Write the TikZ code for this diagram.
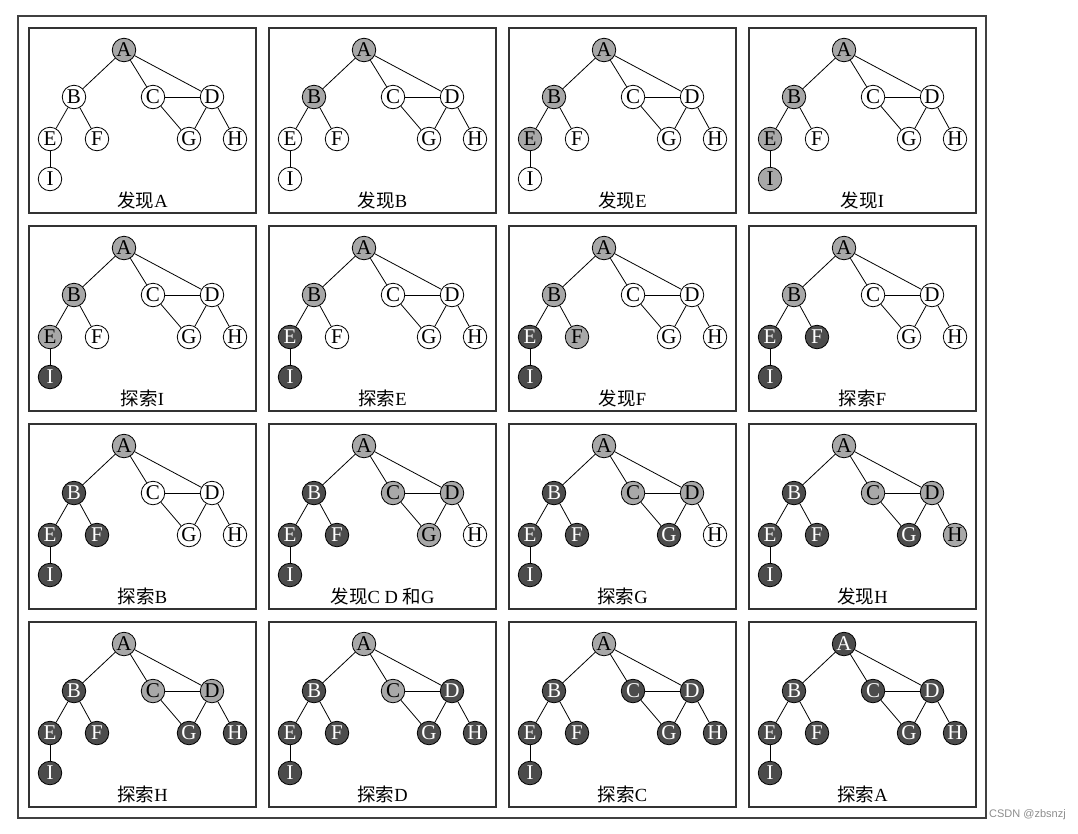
\documentclass[tikz,border=0pt]{standalone}
\usepackage{fontspec}
\setmainfont{Liberation Serif}
\newfontfamily\cjk{Noto Sans CJK SC}
\newfontfamily\wmfont{Liberation Sans}
\tikzset{
  vbase/.style={circle, draw=black, line width=0.8pt, minimum size=23.5pt, inner sep=0pt,
    font=\fontsize{21}{21}\selectfont},
  vw/.style={vbase, fill=white, text=black},
  vg/.style={vbase, fill=black!34, text=black},
  vd/.style={vbase, fill=black!70, text=white},
  sA/.style=vw, sB/.style=vw, sC/.style=vw, sD/.style=vw, sE/.style=vw,
  sF/.style=vw, sG/.style=vw, sH/.style=vw, sI/.style=vw,
  edge/.style={line width=0.8pt, black},
  panel/.style={line width=1.2pt, draw=black!80},
  lab/.style={font=\fontsize{18.5}{18.5}\selectfont, inner sep=0pt}
}
\newcommand\gpanel[4]{%
  \begin{scope}[shift={#2}, #4]
    \draw[panel] (0,0) rectangle (227,185);
    \node[sA] (#1A) at (95,22) {A};
    \node[sB] (#1B) at (45,69) {B};
    \node[sC] (#1C) at (124,69) {C};
    \node[sD] (#1D) at (183,69) {D};
    \node[sE] (#1E) at (21,111) {E};
    \node[sF] (#1F) at (68,111) {F};
    \node[sG] (#1G) at (160,111) {G};
    \node[sH] (#1H) at (206,111) {H};
    \node[sI] (#1I) at (21,151) {I};
    \draw[edge] (#1A) -- (#1B);
    \draw[edge] (#1A) -- (#1C);
    \draw[edge] (#1A) -- (#1D);
    \draw[edge] (#1B) -- (#1E);
    \draw[edge] (#1B) -- (#1F);
    \draw[edge] (#1C) -- (#1D);
    \draw[edge] (#1C) -- (#1G);
    \draw[edge] (#1D) -- (#1G);
    \draw[edge] (#1D) -- (#1H);
    \draw[edge] (#1E) -- (#1I);
    \node[lab] (#1L) at (113.5,172) {#3};
  \end{scope}}
\begin{document}
\begin{tikzpicture}[x=1pt, y=-1pt]
\useasboundingbox (0,0) rectangle (1078,833);
\draw[line width=1.3pt, black!75] (18,16) rectangle (986,818);
% row 1
\gpanel{pa}{(29,28)}{{\cjk 发现}A}{sA/.style=vg}
\gpanel{pb}{(269,28)}{{\cjk 发现}B}{sA/.style=vg, sB/.style=vg}
\gpanel{pc}{(509,28)}{{\cjk 发现}E}{sA/.style=vg, sB/.style=vg, sE/.style=vg}
\gpanel{pd}{(749,28)}{{\cjk 发现}I}{sA/.style=vg, sB/.style=vg, sE/.style=vg, sI/.style=vg}
% row 2
\gpanel{pe}{(29,226)}{{\cjk 探索}I}{sA/.style=vg, sB/.style=vg, sE/.style=vg, sI/.style=vd}
\gpanel{pf}{(269,226)}{{\cjk 探索}E}{sA/.style=vg, sB/.style=vg, sE/.style=vd, sI/.style=vd}
\gpanel{pg}{(509,226)}{{\cjk 发现}F}{sA/.style=vg, sB/.style=vg, sE/.style=vd, sI/.style=vd, sF/.style=vg}
\gpanel{ph}{(749,226)}{{\cjk 探索}F}{sA/.style=vg, sB/.style=vg, sE/.style=vd, sI/.style=vd, sF/.style=vd}
% row 3
\gpanel{pi}{(29,424)}{{\cjk 探索}B}{sA/.style=vg, sB/.style=vd, sE/.style=vd, sI/.style=vd, sF/.style=vd}
\gpanel{pj}{(269,424)}{{\cjk 发现}C D {\cjk 和}G}{sA/.style=vg, sB/.style=vd, sE/.style=vd, sI/.style=vd, sF/.style=vd, sC/.style=vg, sD/.style=vg, sG/.style=vg}
\gpanel{pk}{(509,424)}{{\cjk 探索}G}{sA/.style=vg, sB/.style=vd, sE/.style=vd, sI/.style=vd, sF/.style=vd, sC/.style=vg, sD/.style=vg, sG/.style=vd}
\gpanel{pl}{(749,424)}{{\cjk 发现}H}{sA/.style=vg, sB/.style=vd, sE/.style=vd, sI/.style=vd, sF/.style=vd, sC/.style=vg, sD/.style=vg, sG/.style=vd, sH/.style=vg}
% row 4
\gpanel{pm}{(29,622)}{{\cjk 探索}H}{sA/.style=vg, sB/.style=vd, sE/.style=vd, sI/.style=vd, sF/.style=vd, sC/.style=vg, sD/.style=vg, sG/.style=vd, sH/.style=vd}
\gpanel{pn}{(269,622)}{{\cjk 探索}D}{sA/.style=vg, sB/.style=vd, sE/.style=vd, sI/.style=vd, sF/.style=vd, sC/.style=vg, sD/.style=vd, sG/.style=vd, sH/.style=vd}
\gpanel{po}{(509,622)}{{\cjk 探索}C}{sA/.style=vg, sB/.style=vd, sE/.style=vd, sI/.style=vd, sF/.style=vd, sC/.style=vd, sD/.style=vd, sG/.style=vd, sH/.style=vd}
\gpanel{pp}{(749,622)}{{\cjk 探索}A}{sA/.style=vd, sB/.style=vd, sE/.style=vd, sI/.style=vd, sF/.style=vd, sC/.style=vd, sD/.style=vd, sG/.style=vd, sH/.style=vd}
\node[font=\wmfont\fontsize{11}{11}\selectfont, text=black!45, anchor=west, inner sep=0pt] (wm) at (989,815) {CSDN @zbsnzj};
\end{tikzpicture}
\end{document}
